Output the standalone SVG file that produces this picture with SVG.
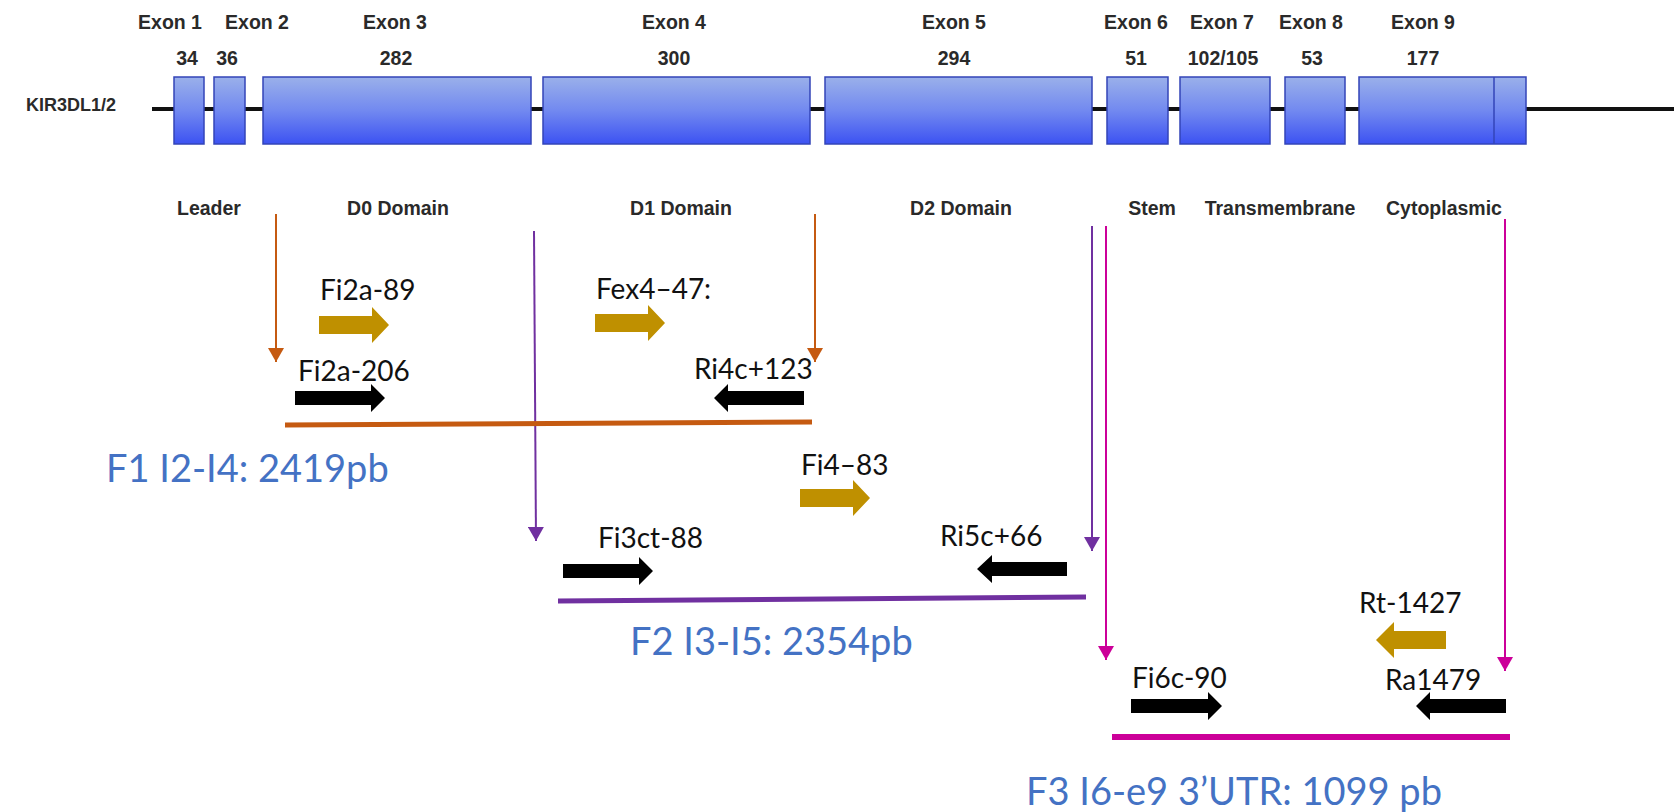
<svg xmlns="http://www.w3.org/2000/svg" width="1674" height="812" viewBox="0 0 1674 812">
<defs>
<linearGradient id="exg" x1="0" y1="0" x2="0" y2="1">
<stop offset="0" stop-color="#9AB0EA"/>
<stop offset="0.5" stop-color="#7289F0"/>
<stop offset="1" stop-color="#3C52F2"/>
</linearGradient>
<marker id="mO" markerUnits="userSpaceOnUse" markerWidth="14" markerHeight="16" refX="14" refY="8" orient="auto"><path d="M0,0 L14,8 L0,16 z" fill="#C55A11"/></marker>
<marker id="mP" markerUnits="userSpaceOnUse" markerWidth="14" markerHeight="16" refX="14" refY="8" orient="auto"><path d="M0,0 L14,8 L0,16 z" fill="#7030A0"/></marker>
<marker id="mM" markerUnits="userSpaceOnUse" markerWidth="14" markerHeight="16" refX="14" refY="8" orient="auto"><path d="M0,0 L14,8 L0,16 z" fill="#CC0099"/></marker>
</defs>
<style>
.ex{fill:url(#exg);stroke:#3344B8;stroke-width:1.5}
.hd{font-family:"Liberation Sans",Arial,sans-serif;font-weight:bold;font-size:19.5px;fill:#2a2a2a;text-anchor:middle}
.gn{font-family:"Liberation Sans",Arial,sans-serif;font-weight:bold;font-size:18px;fill:#2a2a2a}
.pl{font-family:Lato,"Open Sans",sans-serif;font-size:28px;fill:#111}
.fl{font-family:Lato,"Open Sans",sans-serif;font-size:38px;fill:#4472C4}
.gold{fill:#BF9000}
.blk{fill:#000}
.cn{fill:none;stroke-width:2}
</style>
<rect width="1674" height="812" fill="#fff"/>

<g id="gene">
<line x1="152" y1="109" x2="1674" y2="109" stroke="#111" stroke-width="4"/>
<text class="gn" x="26" y="111">KIR3DL1/2</text>
<rect class="ex" x="174" y="77" width="30" height="67"/>
<rect class="ex" x="214" y="77" width="31" height="67"/>
<rect class="ex" x="263" y="77" width="268" height="67"/>
<rect class="ex" x="543" y="77" width="267" height="67"/>
<rect class="ex" x="825" y="77" width="267" height="67"/>
<rect class="ex" x="1107" y="77" width="61" height="67"/>
<rect class="ex" x="1180" y="77" width="90" height="67"/>
<rect class="ex" x="1285" y="77" width="60" height="67"/>
<rect class="ex" x="1359" y="77" width="167" height="67"/>
<line x1="1494" y1="77" x2="1494" y2="144" stroke="#3344B8" stroke-width="1.5"/>
<text class="hd" x="170" y="29">Exon 1</text>
<text class="hd" x="257" y="29">Exon 2</text>
<text class="hd" x="395" y="29">Exon 3</text>
<text class="hd" x="674" y="29">Exon 4</text>
<text class="hd" x="954" y="29">Exon 5</text>
<text class="hd" x="1136" y="29">Exon 6</text>
<text class="hd" x="1222" y="29">Exon 7</text>
<text class="hd" x="1311" y="29">Exon 8</text>
<text class="hd" x="1423" y="29">Exon 9</text>
<text class="hd" x="187" y="65">34</text>
<text class="hd" x="227" y="65">36</text>
<text class="hd" x="396" y="65">282</text>
<text class="hd" x="674" y="65">300</text>
<text class="hd" x="954" y="65">294</text>
<text class="hd" x="1136" y="65">51</text>
<text class="hd" x="1223" y="65">102/105</text>
<text class="hd" x="1312" y="65">53</text>
<text class="hd" x="1423" y="65">177</text>
<text class="hd" x="209" y="215">Leader</text>
<text class="hd" x="398" y="215">D0 Domain</text>
<text class="hd" x="681" y="215">D1 Domain</text>
<text class="hd" x="961" y="215">D2 Domain</text>
<text class="hd" x="1152" y="215">Stem</text>
<text class="hd" x="1280" y="215">Transmembrane</text>
<text class="hd" x="1444" y="215">Cytoplasmic</text>
</g>

<g id="connectors">
<line class="cn" x1="276" y1="214" x2="276" y2="362" stroke="#C55A11" marker-end="url(#mO)"/>
<line class="cn" x1="815" y1="214" x2="815" y2="362" stroke="#C55A11" marker-end="url(#mO)"/>
<line class="cn" x1="534" y1="231" x2="536" y2="541" stroke="#7030A0" marker-end="url(#mP)"/>
<line class="cn" x1="1092" y1="226" x2="1092" y2="551" stroke="#7030A0" marker-end="url(#mP)"/>
<line class="cn" x1="1106" y1="226" x2="1106" y2="660" stroke="#CC0099" marker-end="url(#mM)"/>
<line class="cn" x1="1505" y1="219" x2="1505" y2="671" stroke="#CC0099" marker-end="url(#mM)"/>
</g>

<g id="fragment-F1">
<line x1="285" y1="425" x2="812" y2="422" stroke="#C55A11" stroke-width="5"/>
<text class="fl" x="106" y="482">F1 I2-I4: 2419pb</text>
</g>
<g id="fragment-F2">
<line x1="558" y1="601" x2="1086" y2="597" stroke="#7030A0" stroke-width="5"/>
<text class="fl" x="630" y="655">F2 I3-I5: 2354pb</text>
</g>
<g id="fragment-F3">
<line x1="1112" y1="737" x2="1510" y2="737" stroke="#CC0099" stroke-width="6"/>
<text class="fl" x="1026" y="805">F3 I6-e9 3’UTR: 1099 pb</text>
</g>

<g id="primer-Fi2a-89">
<polygon class="gold" points="319,316 372,316 372,307 389,325 372,343 372,334 319,334"/>
<text class="pl" x="320" y="300">Fi2a-89</text>
</g>
<g id="primer-Fex4-47">
<polygon class="gold" points="595,314 648,314 648,305 665,323 648,341 648,332 595,332"/>
<text class="pl" x="596" y="299">Fex4–47:</text>
</g>
<g id="primer-Fi2a-206">
<polygon class="blk" points="295,391 371,391 371,384 385,398 371,412 371,405 295,405"/>
<text class="pl" x="298" y="381">Fi2a-206</text>
</g>
<g id="primer-Ri4c+123">
<polygon class="blk" points="804,391 728,391 728,384 714,398 728,412 728,405 804,405"/>
<text class="pl" x="694" y="379">Ri4c+123</text>
</g>
<g id="primer-Fi4-83">
<polygon class="gold" points="800,489 853,489 853,480 870,498 853,516 853,507 800,507"/>
<text class="pl" x="801" y="475">Fi4–83</text>
</g>
<g id="primer-Fi3ct-88">
<polygon class="blk" points="563,564 639,564 639,557 653,571 639,585 639,578 563,578"/>
<text class="pl" x="598" y="548">Fi3ct-88</text>
</g>
<g id="primer-Ri5c+66">
<polygon class="blk" points="1067,562 992,562 992,555 977,569 992,583 992,576 1067,576"/>
<text class="pl" x="940" y="546">Ri5c+66</text>
</g>
<g id="primer-Rt-1427">
<polygon class="gold" points="1446,631 1394,631 1394,622 1376,640 1394,658 1394,649 1446,649"/>
<text class="pl" x="1359" y="613">Rt-1427</text>
</g>
<g id="primer-Fi6c-90">
<polygon class="blk" points="1131,699 1208,699 1208,692 1222,706 1208,720 1208,713 1131,713"/>
<text class="pl" x="1132" y="688">Fi6c-90</text>
</g>
<g id="primer-Ra1479">
<polygon class="blk" points="1506,699 1430,699 1430,692 1416,706 1430,720 1430,713 1506,713"/>
<text class="pl" x="1385" y="690">Ra1479</text>
</g>
</svg>
